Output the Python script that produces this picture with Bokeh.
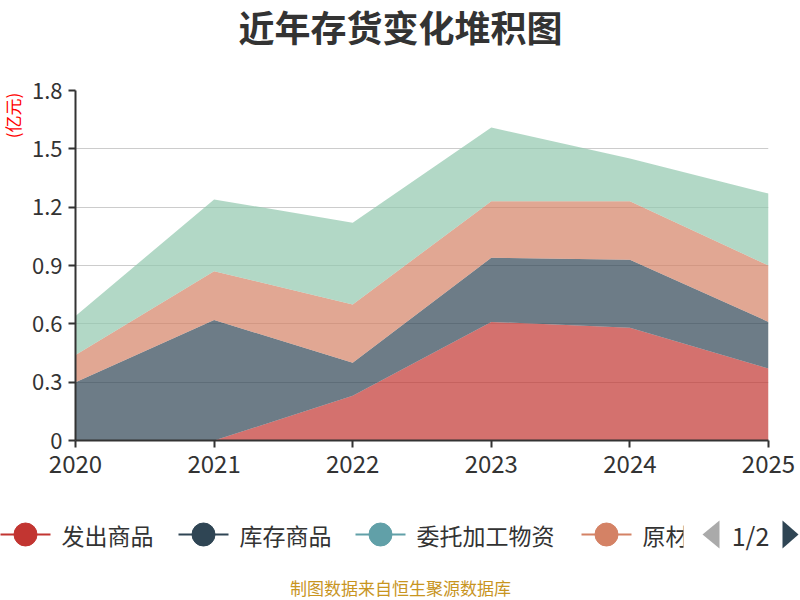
from math import pi

from bokeh.plotting import figure, ColumnDataSource
from bokeh.models import Range1d, FixedTicker, CustomJSTickFormatter
from bokeh.core.properties import value
from bokeh.embed import file_html
from bokeh.resources import INLINE

FONT = "Noto Sans CJK SC"

# data (亿元)
years = [2020, 2021, 2022, 2023, 2024, 2025]
fachu = [0.0, 0.0, 0.23, 0.61, 0.58, 0.37]       # 发出商品
kucun = [0.30, 0.62, 0.17, 0.33, 0.35, 0.24]     # 库存商品
weituo = [0.0, 0.0, 0.0, 0.0, 0.0, 0.0]          # 委托加工物资
yuancailiao = [0.14, 0.25, 0.30, 0.29, 0.30, 0.29]  # 原材料
zaichanpin = [0.20, 0.37, 0.42, 0.38, 0.22, 0.37]   # 在产品 (legend page 2)

names = ["发出商品", "库存商品", "委托加工物资", "原材料", "在产品"]
colors = ["#c23531", "#2f4554", "#61a0a8", "#d48265", "#91c7ae"]
y_ticks = [0, 0.3, 0.6, 0.9, 1.2, 1.5, 1.8]

title_text = "近年存货变化堆积图"
unit_text = "(亿元)"
source_text = "制图数据来自恒生聚源数据库"
page_text = "1/2"

src = ColumnDataSource(dict(year=years, **dict(zip(names, [fachu, kucun, weituo, yuancailiao, zaichanpin]))))

p = figure(frame_width=693, frame_height=350,
           x_range=Range1d(2020, 2025), y_range=Range1d(0, 1.8),
           min_border_left=75, min_border_right=32, min_border_top=90, min_border_bottom=160,
           output_backend="svg", toolbar_location=None)
p.outline_line_color = None

p.varea_stack(stackers=names, x="year", fill_color=colors, fill_alpha=0.7, source=src)

p.xgrid.visible = False
p.ygrid.ticker = FixedTicker(ticks=y_ticks)
p.ygrid.grid_line_color = "#cccccc"
p.ygrid.grid_line_width = 1

for ax in (p.xaxis[0], p.yaxis[0]):
    ax.axis_line_color = "#333333"
    ax.axis_line_width = 2
    ax.major_tick_line_color = "#333333"
    ax.major_tick_line_width = 2
    ax.major_tick_in = 0
    ax.major_tick_out = 7
    ax.minor_tick_line_color = None
    ax.major_label_text_font = FONT
    ax.major_label_text_color = "#333333"

p.xaxis.ticker = FixedTicker(ticks=years)
p.xaxis.formatter = CustomJSTickFormatter(code="return tick.toFixed(0)")
p.xaxis.major_label_text_font_size = "24px"
p.xaxis.major_label_standoff = 7
p.yaxis.ticker = FixedTicker(ticks=y_ticks)
p.yaxis.formatter = CustomJSTickFormatter(code="return tick == 0 ? '0' : tick.toFixed(1)")
p.yaxis.major_label_text_font_size = "22px"
p.yaxis.major_label_standoff = 6

# pixel ranges over the frame, for the title, unit, paged legend and note
p.extra_x_ranges = {"px": Range1d(75, 768)}
p.extra_y_ranges = {"px": Range1d(440, 90)}
px = dict(x_range_name="px", y_range_name="px", level="overlay")

p.text(x=[400], y=[25], text=[title_text], text_font=value(FONT), text_font_size="36px",
       text_font_style="bold", text_color="#333333", text_align="center",
       text_baseline="middle", **px)
p.text(x=[12], y=[115], text=[unit_text], angle=pi / 2, text_font=value(FONT),
       text_font_size="17px", text_color="#ff0000", text_align="center",
       text_baseline="middle", **px)

starts = [0, 178, 355, 581]
ly = 534
item = ColumnDataSource(dict(
    x0=starts, x1=[s + 50 for s in starts], cx=[s + 25 for s in starts],
    tx=[s + 61 for s in starts], y=[ly] * 4, name=names[:4], color=colors[:4]))
p.segment(x0="x0", y0="y", x1="x1", y1="y", line_color="color", line_width=2, source=item, **px)
p.ellipse(x="cx", y="y", width=23, height=23, fill_color="color", line_color="color",
          source=item, **px)
p.text(x="tx", y="y", text="name", text_font=value(FONT), text_font_size="23px",
       text_color="#333333", text_baseline="middle", source=item, **px)
# the paged legend cuts the 4th label
p.quad(left=[683], right=[728], bottom=[554], top=[512], fill_color="white", line_color=None, **px)
# page arrows
p.varea(x=[702, 719], y1=[ly, ly - 14], y2=[ly, ly + 14], fill_color="#aaaaaa", **px)
p.varea(x=[782, 798], y1=[ly - 14, ly], y2=[ly + 14, ly], fill_color="#2f4554", **px)
p.text(x=[750], y=[ly], text=[page_text], text_font=value(FONT), text_font_size="25px",
       text_color="#333333", text_align="center", text_baseline="middle", **px)
p.text(x=[400], y=[587], text=[source_text], text_font=value(FONT),
       text_font_size="17px", text_color="#c8951f", text_align="center",
       text_baseline="middle", **px)

open("out.html", "w").write(file_html(p, INLINE))
